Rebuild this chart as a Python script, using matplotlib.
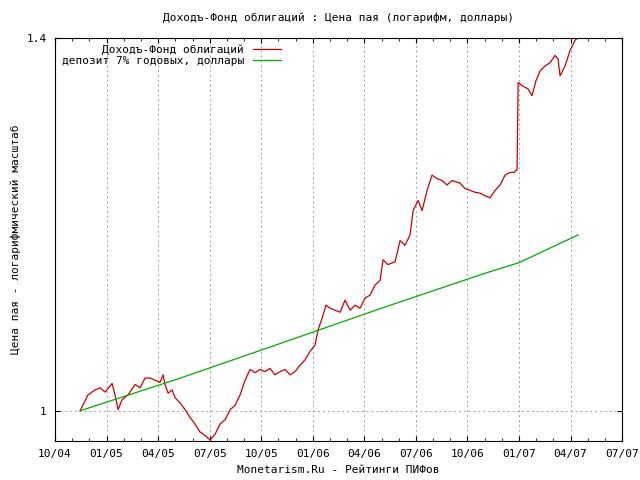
import numpy as np
import matplotlib
matplotlib.use('Agg')
import matplotlib.pyplot as plt
from matplotlib.ticker import FixedLocator, NullFormatter, MultipleLocator

plt.rcParams['font.family'] = ['DejaVu Sans Mono']
plt.rcParams['font.size'] = 8

# months since 10/04
fund_m = [1.46, 1.92, 2.33, 2.62, 2.91, 3.32, 3.49, 3.67, 3.90, 4.25, 4.66, 4.95, 5.24, 5.53,
          5.82, 6.11, 6.29, 6.40, 6.58, 6.81, 6.98, 7.28, 7.57, 7.86, 8.15, 8.44, 8.73, 9.02,
          9.31, 9.60, 9.90, 10.19, 10.48, 10.77, 11.06, 11.35, 11.64, 11.93, 12.22, 12.51,
          12.80, 13.10, 13.39, 13.68, 13.97, 14.26, 14.55, 14.84, 15.13, 15.31, 15.54, 15.77,
          16.01, 16.30, 16.59, 16.88, 17.17, 17.46, 17.75, 18.04, 18.33, 18.62, 18.92, 19.09,
          19.38, 19.79, 20.08, 20.37, 20.66, 20.84, 21.13, 21.36, 21.65, 21.94, 22.23, 22.52,
          22.81, 23.11, 23.57, 23.86, 24.15, 24.44, 24.74, 25.03, 25.32, 25.61, 25.90, 26.19,
          26.48, 26.71, 26.89, 26.95, 27.18, 27.53, 27.76, 27.99, 28.23, 28.52, 28.81, 29.10,
          29.27, 29.39, 29.68, 29.97, 30.26, 30.44]
fund_v = [1.000, 1.0145, 1.019, 1.021, 1.017, 1.025, 1.0145, 1.001, 1.010, 1.0145, 1.024, 1.021, 1.030, 1.030,
          1.028, 1.026, 1.033, 1.024, 1.016, 1.019, 1.012, 1.007, 1.001, 0.994, 0.988, 0.981, 0.978, 0.974,
          0.979, 0.988, 0.992, 1.001, 1.005, 1.0145, 1.028, 1.038, 1.035, 1.038, 1.036, 1.039,
          1.033, 1.036, 1.038, 1.033, 1.036, 1.042, 1.047, 1.055, 1.061, 1.076, 1.087, 1.100,
          1.097, 1.095, 1.093, 1.105, 1.095, 1.100, 1.097, 1.107, 1.110, 1.120, 1.125, 1.146,
          1.141, 1.144, 1.166, 1.161, 1.172, 1.198, 1.209, 1.198, 1.220, 1.237, 1.233, 1.231,
          1.226, 1.231, 1.228, 1.222, 1.220, 1.218, 1.217, 1.214, 1.212, 1.220, 1.226, 1.237,
          1.240, 1.240, 1.243, 1.345, 1.341, 1.337, 1.329, 1.347, 1.359, 1.365, 1.369, 1.378,
          1.374, 1.353, 1.365, 1.384, 1.397, 1.400]

dep_m = [1.46, 7.3, 13.0, 19.0, 25.0, 27.0, 30.44]
dep_v = [1.000, 1.030, 1.062, 1.097, 1.132, 1.143, 1.172]

xlabels = ['10/04', '01/05', '04/05', '07/05', '10/05', '01/06', '04/06',
           '07/06', '10/06', '01/07', '04/07', '07/07']

fig = plt.figure(figsize=(6.4, 4.8), dpi=100)
ax = fig.add_axes([0.086, 0.081, 0.886, 0.84])

ax.plot(fund_m, fund_v, color='#cc0000', lw=0.9, label='Доходъ-Фонд облигаций')
ax.plot(dep_m, dep_v, color='#00aa00', lw=0.9, label='депозит 7% годовых, доллары')

ax.set_yscale('log')
ax.set_ylim(0.973, 1.4)
ax.set_xlim(0, 33)
ax.yaxis.set_major_locator(FixedLocator([1.0, 1.4]))
ax.yaxis.set_major_formatter(plt.FuncFormatter(lambda v, p: f'{v:g}'))
ax.yaxis.set_minor_locator(FixedLocator([]))
ax.yaxis.set_minor_formatter(NullFormatter())
ax.set_xticks(np.arange(0, 34, 3))
ax.set_xticklabels(xlabels)
ax.xaxis.set_minor_locator(MultipleLocator(1))
ax.tick_params(direction='in', which='both', top=True, right=True, pad=6)
ax.tick_params(which='minor', length=2)
ax.grid(True, which='major', color='#a0a0a0', linestyle=(0, (2, 3)), lw=0.7)

ax.set_title('Доходъ-Фонд облигаций : Цена пая (логарифм, доллары)', fontsize=8, pad=12)
ax.set_xlabel('Monetarism.Ru - Рейтинги ПИФов')
ax.set_ylabel('Цена пая - логарифмический масштаб')

leg = ax.legend(loc='upper left', frameon=False, markerfirst=False,
                handlelength=2.5, borderaxespad=0.2, labelspacing=0.1)
for t in leg.get_texts():
    t.set_ha('right')

fig.savefig('out.png', dpi=100)
